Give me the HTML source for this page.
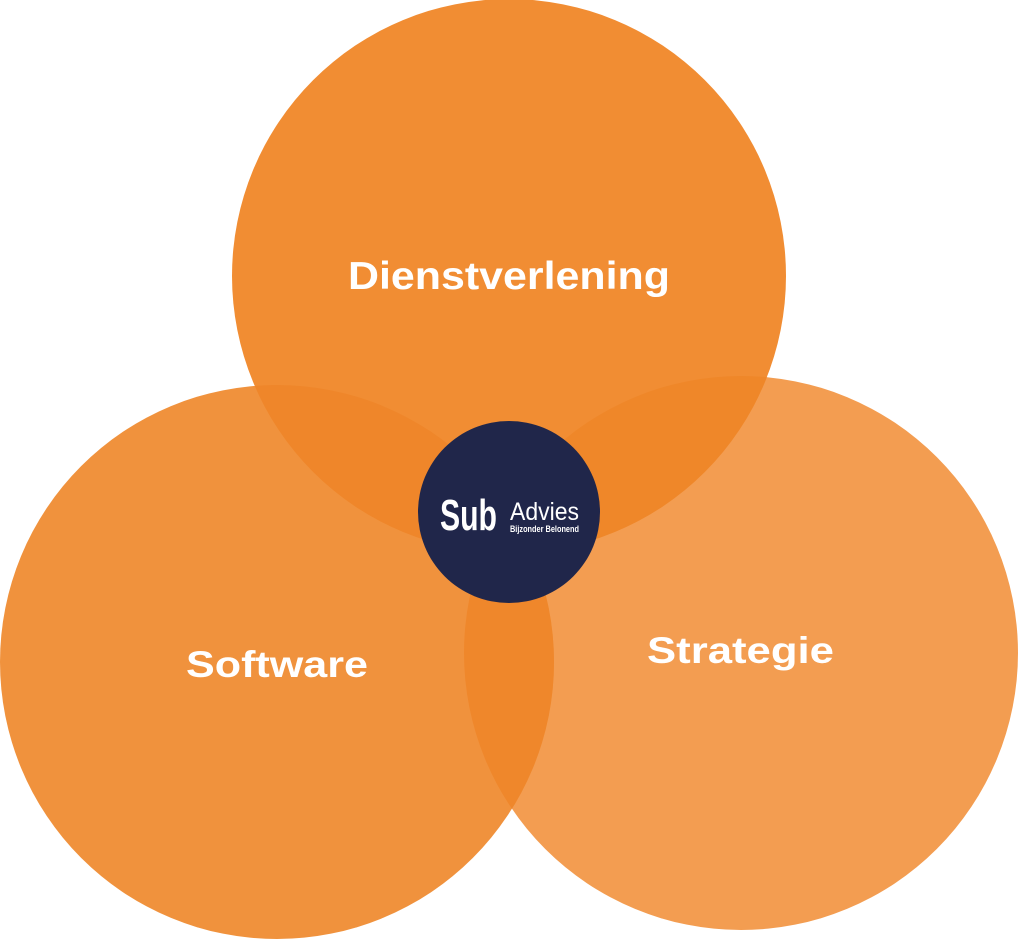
<!DOCTYPE html>
<html><head><meta charset="utf-8"><style>
html,body{margin:0;padding:0;background:#fff;}
svg{display:block}
text{font-family:"Liberation Sans",sans-serif;}
</style></head><body>
<svg width="1018" height="940" viewBox="0 0 1018 940">
<defs>
<clipPath id="cT"><circle cx="509" cy="276" r="277"/></clipPath>
<clipPath id="cL"><circle cx="277" cy="662" r="277"/></clipPath>
<clipPath id="cR"><circle cx="741" cy="653" r="277"/></clipPath>
</defs>
<circle cx="741" cy="653" r="277" fill="#F39D51"/>
<circle cx="277" cy="662" r="277" fill="#F0923D"/>
<circle cx="509" cy="276" r="277" fill="#F18D33"/>
<g clip-path="url(#cL)"><circle cx="741" cy="653" r="277" fill="#EF872B"/></g>
<g clip-path="url(#cT)"><circle cx="277" cy="662" r="277" fill="#EF862A"/><circle cx="741" cy="653" r="277" fill="#EF8729"/></g>
<text x="348" y="289" font-size="39" font-weight="bold" fill="#fff" textLength="322" lengthAdjust="spacingAndGlyphs">Dienstverlening</text>
<text x="186" y="677" font-size="37" font-weight="bold" fill="#fff" textLength="182" lengthAdjust="spacingAndGlyphs">Software</text>
<text x="647" y="663" font-size="37" font-weight="bold" fill="#fff" textLength="187" lengthAdjust="spacingAndGlyphs">Strategie</text>
<circle cx="509" cy="512" r="91" fill="#20264A"/>
<text x="440" y="530" font-size="44" font-weight="bold" fill="#fff" textLength="57" lengthAdjust="spacingAndGlyphs">Sub</text>
<text x="510" y="520" font-size="25" fill="#fff" textLength="69" lengthAdjust="spacingAndGlyphs">Advies</text>
<text x="510" y="532" font-size="9" font-weight="bold" fill="#fff" textLength="69" lengthAdjust="spacingAndGlyphs">Bijzonder Belonend</text>
</svg>
</body></html>
